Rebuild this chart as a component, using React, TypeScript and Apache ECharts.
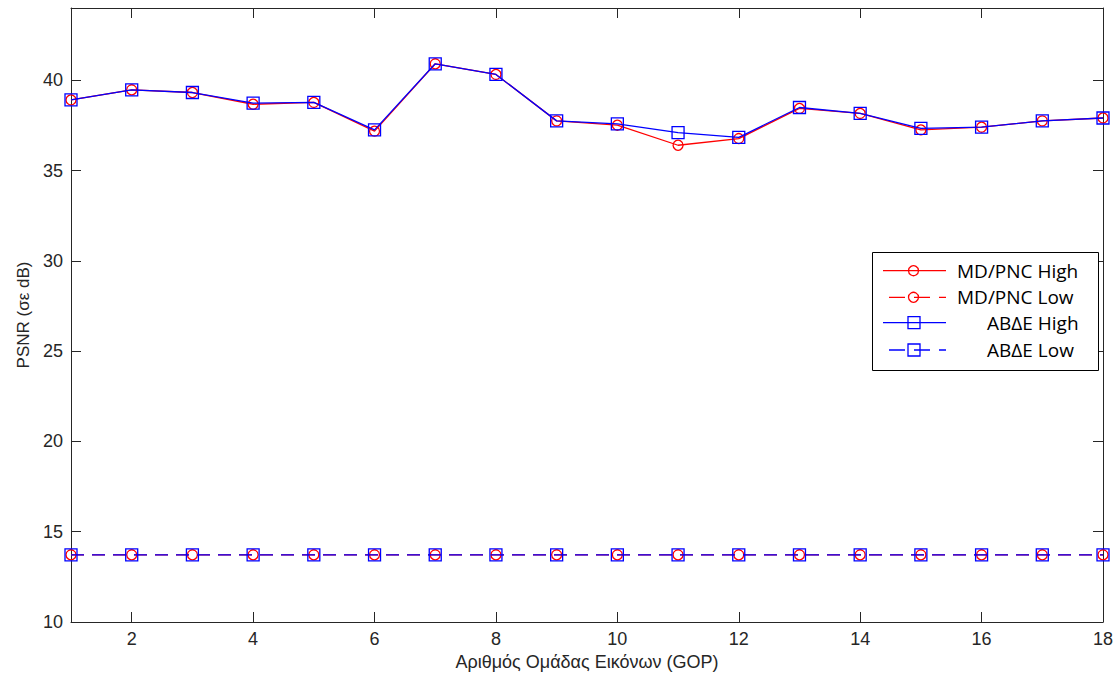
import React, { useEffect, useRef } from 'react';
import * as echarts from 'echarts';

const gop = [1, 2, 3, 4, 5, 6, 7, 8, 9, 10, 11, 12, 13, 14, 15, 16, 17, 18];
const mdHigh = [38.91, 39.47, 39.32, 38.67, 38.77, 37.18, 40.91, 40.32, 37.75, 37.51, 36.40, 36.77, 38.44, 38.16, 37.25, 37.40, 37.75, 37.91];
const mdLow = [13.72, 13.72, 13.72, 13.72, 13.72, 13.72, 13.72, 13.72, 13.72, 13.72, 13.72, 13.72, 13.72, 13.72, 13.72, 13.72, 13.72, 13.72];
const abdeHigh = [38.91, 39.47, 39.32, 38.73, 38.77, 37.25, 40.91, 40.32, 37.75, 37.58, 37.10, 36.84, 38.49, 38.16, 37.33, 37.40, 37.75, 37.91];
const abdeLow = [13.72, 13.72, 13.72, 13.72, 13.72, 13.72, 13.72, 13.72, 13.72, 13.72, 13.72, 13.72, 13.72, 13.72, 13.72, 13.72, 13.72, 13.72];

const xTicks = [2, 4, 6, 8, 10, 12, 14, 16, 18];
const yTicks = [10, 15, 20, 25, 30, 35, 40];
const seriesNames = ['MD/PNC High', 'MD/PNC Low', 'ΑΒΔΕ High', 'ΑΒΔΕ Low'];

const AXIS = '#262626';
const FONT = '"Liberation Sans", Arial, sans-serif';
const LFONT = '"Open Sans", "Noto Sans", sans-serif';
const RED = '#ff0000';
const BLUE = '#0000ff';

const pairs = (ys: number[]) => gop.map((x, i) => [x, ys[i]]);

function makeSeries(name: string, ys: number[], color: string, dashed: boolean, symbol: string, size: number, z: number) {
  return {
    name,
    type: 'line',
    data: pairs(ys),
    clip: false,
    symbol,
    symbolSize: size,
    showSymbol: true,
    z,
    lineStyle: { color, width: 1.3, type: dashed ? [13, 8] : 'solid' },
    itemStyle: { color: 'none', borderColor: color, borderWidth: 1.3 },
    emphasis: { disabled: true },
  };
}

const legendRows = [
  { name: seriesNames[0], color: RED, dashed: false, shape: 'circle', y: 270.7, tx: 957 },
  { name: seriesNames[1], color: RED, dashed: true, shape: 'circle', y: 297.3, tx: 957 },
  { name: seriesNames[2], color: BLUE, dashed: false, shape: 'rect', y: 322.7, tx: 987 },
  { name: seriesNames[3], color: BLUE, dashed: true, shape: 'rect', y: 350, tx: 987 },
];

function legendGraphics() {
  const els: any[] = [
    { type: 'rect', shape: { x: 872.5, y: 252.5, width: 226, height: 118 }, style: { fill: '#fff', stroke: '#000', lineWidth: 1 }, z: 100 },
  ];
  legendRows.forEach((r) => {
    els.push({
      type: 'line',
      shape: { x1: r.dashed ? 889 : 883, y1: r.y, x2: 946, y2: r.y },
      style: { stroke: r.color, lineWidth: 1.3, lineDash: r.dashed ? [16, 9] : null },
      z: 101,
    });
    if (r.shape === 'circle') {
      els.push({ type: 'circle', shape: { cx: 913.5, cy: r.y, r: 5 }, style: { fill: 'none', stroke: r.color, lineWidth: 1.3 }, z: 102 });
    } else {
      els.push({ type: 'rect', shape: { x: 908, y: r.y - 6, width: 12, height: 12 }, style: { fill: 'none', stroke: r.color, lineWidth: 1.3 }, z: 102 });
    }
    els.push({
      type: 'text',
      x: r.tx,
      y: r.y,
      style: { text: r.name, font: `19px ${LFONT}`, fill: '#000', textVerticalAlign: 'middle', verticalAlign: 'middle' },
      z: 102,
    });
  });
  return els;
}

const option: any = {
  animation: false,
  backgroundColor: '#fff',
  grid: { left: 71, right: 17, top: 8, bottom: 60, containLabel: false, outerBoundsMode: 'none' },
  xAxis: [
    {
      type: 'value', min: 1, max: 18, position: 'bottom',
      name: 'Αριθμός Ομάδας Εικόνων (GOP)', nameLocation: 'middle', nameGap: 26,
      nameTextStyle: { fontFamily: FONT, fontSize: 18, color: AXIS },
      axisLine: { show: true, onZero: false, lineStyle: { color: AXIS, width: 1 } },
      axisTick: { show: true, inside: true, length: 10, customValues: xTicks, lineStyle: { color: AXIS } },
      axisLabel: { show: true, customValues: xTicks, margin: 8, fontFamily: FONT, fontSize: 18, color: AXIS },
      splitLine: { show: false },
    },
    {
      type: 'value', min: 1, max: 18, position: 'top',
      axisLine: { show: true, onZero: false, lineStyle: { color: AXIS, width: 1 } },
      axisTick: { show: true, inside: true, length: 10, customValues: xTicks, lineStyle: { color: AXIS } },
      axisLabel: { show: false },
      splitLine: { show: false },
    },
  ],
  yAxis: [
    {
      type: 'value', min: 10, max: 44, interval: 5, position: 'left',
      name: 'PSNR (σε dB)', nameLocation: 'middle', nameGap: 35,
      nameTextStyle: { fontFamily: FONT, fontSize: 17, color: AXIS },
      axisLine: { show: true, onZero: false, lineStyle: { color: AXIS, width: 1 } },
      axisTick: { show: true, inside: true, length: 10, customValues: yTicks, lineStyle: { color: AXIS } },
      axisLabel: { show: true, customValues: yTicks, margin: 8, fontFamily: FONT, fontSize: 18, color: AXIS },
      splitLine: { show: false },
    },
    {
      type: 'value', min: 10, max: 44, interval: 5, position: 'right',
      axisLine: { show: true, onZero: false, lineStyle: { color: AXIS, width: 1 } },
      axisTick: { show: true, inside: true, length: 10, customValues: yTicks, lineStyle: { color: AXIS } },
      axisLabel: { show: false },
      splitLine: { show: false },
    },
  ],
  series: [
    makeSeries(seriesNames[0], mdHigh, RED, false, 'circle', 10, 2),
    makeSeries(seriesNames[1], mdLow, RED, true, 'circle', 10, 2),
    makeSeries(seriesNames[2], abdeHigh, BLUE, false, 'rect', 12, 3),
    makeSeries(seriesNames[3], abdeLow, BLUE, true, 'rect', 12, 3),
  ],
  graphic: legendGraphics(),
};

export default function App() {
  const ref = useRef<HTMLDivElement>(null);
  useEffect(() => {
    const chart = echarts.init(ref.current!, null, { renderer: 'svg' });
    chart.setOption(option);
    return () => chart.dispose();
  }, []);
  return (
    <div
      ref={ref}
      style={{ position: 'fixed', left: 0, top: 0, width: 1120, height: 682, background: '#fff' }}
    />
  );
}
